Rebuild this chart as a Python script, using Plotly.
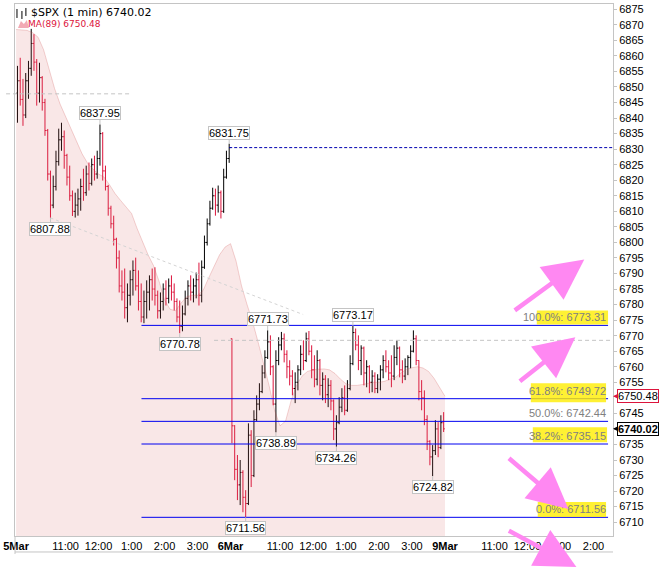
import plotly.graph_objects as go

# $SPX 1-min chart, read back off the picture as 5-minute bars: 5Mar then 6Mar
day1_open = [6848, 6852, 6846, 6841, 6852, 6856, 6864, 6858, 6848, 6853,
             6845, 6836, 6822, 6812, 6818, 6826, 6833, 6834, 6828, 6821,
             6815, 6810, 6812, 6814, 6818, 6816, 6822, 6819, 6825, 6822,
             6827, 6835, 6823, 6818, 6811, 6806, 6801, 6795, 6786, 6784,
             6779, 6783, 6788, 6791, 6786, 6781, 6776, 6781, 6784, 6788,
             6785, 6783, 6778, 6781, 6785, 6782, 6786, 6784, 6781, 6776,
             6773, 6777, 6782, 6786, 6784, 6786, 6788, 6783, 6792, 6800,
             6806, 6811, 6815, 6812, 6816, 6810, 6821, 6827]
day1_high = [6856.8, 6859.4, 6852.6, 6854.5, 6858.4, 6868.7, 6867.0, 6859.0, 6857.8, 6853.5,
             6846.2, 6836.5, 6823.1, 6821.5, 6829.5, 6836.6, 6838.5, 6836.0, 6828.5, 6824.7,
             6816.7, 6816.0, 6817.3, 6820.5, 6823.7, 6824.7, 6825.7, 6827.0, 6827.9, 6829.5,
             6837.95, 6835.5, 6824.7, 6818.5, 6811.8, 6808.6, 6801.5, 6797.4, 6791.0, 6791.6,
             6786.8, 6791.0, 6794.2, 6795.1, 6791.0, 6786.8, 6784.5, 6787.8, 6789.4, 6791.6,
             6792.0, 6784.5, 6783.9, 6786.8, 6787.8, 6788.4, 6789.4, 6786.8, 6782.0, 6781.3,
             6779.7, 6784.5, 6787.8, 6789.4, 6788.4, 6790.3, 6793.5, 6794.2, 6802.2, 6807.7,
             6813.4, 6817.6, 6817.3, 6818.3, 6816.7, 6823.7, 6829.5, 6831.75]
day1_low = [6838.5, 6844.0, 6837.5, 6840.0, 6846.2, 6853.6, 6855.2, 6844.0, 6845.0, 6842.4,
            6834.3, 6819.9, 6807.88, 6811.0, 6816.7, 6824.7, 6829.5, 6823.7, 6818.3, 6813.4,
            6808.5, 6808.0, 6808.6, 6810.2, 6813.4, 6815.0, 6816.7, 6818.3, 6819.9, 6820.5,
            6824.7, 6819.9, 6816.7, 6808.6, 6804.5, 6799.0, 6791.6, 6783.9, 6781.3, 6775.5,
            6774.3, 6779.7, 6782.9, 6784.5, 6778.1, 6774.3, 6774.0, 6775.5, 6778.1, 6781.3,
            6779.7, 6775.5, 6775.5, 6778.1, 6779.7, 6780.4, 6781.3, 6778.1, 6774.3, 6770.78,
            6771.4, 6776.5, 6779.7, 6781.3, 6780.7, 6782.0, 6779.7, 6780.7, 6791.5, 6799.0,
            6805.4, 6810.5, 6808.6, 6809.6, 6807.7, 6809.5, 6820.5, 6825.6]
day1_close = [6852, 6846, 6841, 6852, 6856, 6864, 6858, 6848, 6853, 6845,
              6836, 6822, 6812, 6818, 6826, 6833, 6834, 6828, 6821, 6815,
              6810, 6812, 6814, 6818, 6816, 6822, 6819, 6825, 6822, 6827,
              6835, 6823, 6818, 6811, 6806, 6801, 6795, 6786, 6784, 6779,
              6783, 6788, 6791, 6786, 6781, 6776, 6781, 6784, 6788, 6785,
              6783, 6778, 6781, 6785, 6782, 6786, 6784, 6781, 6776, 6773,
              6777, 6782, 6786, 6784, 6786, 6788, 6783, 6792, 6800, 6806,
              6811, 6815, 6812, 6816, 6810, 6821, 6827, 6830.5]

day2_open = [6769, 6741, 6727, 6722, 6726, 6718, 6716, 6738, 6725, 6743,
             6748, 6752, 6758, 6763, 6768, 6760, 6748, 6762, 6767, 6769,
             6764, 6760, 6757, 6753, 6755, 6759, 6764, 6762, 6769, 6765,
             6759, 6756, 6762, 6754, 6756, 6751, 6754, 6749, 6740, 6742,
             6747, 6750, 6746, 6753, 6761, 6771, 6767, 6762, 6766, 6758,
             6760, 6755, 6757, 6753, 6756, 6759, 6762, 6760, 6758, 6757,
             6763, 6766, 6759, 6757, 6760, 6763, 6765, 6769, 6762, 6752,
             6750, 6743, 6736, 6731, 6733, 6740, 6734, 6742]
day2_high = [6769.1, 6741.2, 6731.6, 6730.0, 6726.7, 6720.3, 6741.8, 6739.6, 6746.0, 6750.8,
             6754.7, 6760.5, 6765.3, 6771.73, 6770.1, 6760.5, 6765.3, 6769.5, 6771.2, 6770.7,
             6765.3, 6762.1, 6758.9, 6758.2, 6760.5, 6766.9, 6768.5, 6771.0, 6771.5, 6766.9,
             6763.7, 6765.3, 6762.5, 6758.2, 6757.3, 6756.3, 6755.7, 6749.5, 6744.4, 6750.2,
             6753.1, 6754.0, 6755.7, 6763.7, 6773.17, 6772.3, 6770.1, 6766.9, 6766.5, 6762.1,
             6760.5, 6758.9, 6758.2, 6757.6, 6760.5, 6763.7, 6765.3, 6762.1, 6763.7, 6766.9,
             6768.5, 6766.5, 6762.1, 6762.7, 6763.7, 6766.9, 6771.7, 6770.1, 6762.1, 6755.7,
             6752.4, 6744.4, 6736.4, 6734.8, 6742.8, 6742.2, 6744.4, 6745.4]
day2_low = [6735.4, 6723.5, 6717.1, 6715.5, 6713.2, 6711.56, 6715.5, 6721.3, 6724.5, 6742.5,
            6746.0, 6751.5, 6756.3, 6762.5, 6757.3, 6747.6, 6738.89, 6760.5, 6765.3, 6761.4,
            6756.3, 6754.0, 6750.8, 6748.3, 6752.4, 6757.3, 6758.9, 6761.5, 6763.7, 6756.3,
            6753.4, 6754.0, 6750.8, 6749.2, 6748.3, 6747.0, 6746.0, 6736.4, 6734.26, 6741.5,
            6745.4, 6744.4, 6745.5, 6752.4, 6760.5, 6765.3, 6758.9, 6757.3, 6754.0, 6753.4,
            6751.5, 6751.8, 6751.5, 6751.5, 6752.4, 6756.3, 6758.2, 6755.7, 6753.4, 6755.7,
            6760.5, 6756.6, 6754.7, 6755.7, 6757.3, 6759.5, 6764.6, 6760.5, 6749.2, 6746.0,
            6741.2, 6733.2, 6728.3, 6724.82, 6731.6, 6730.9, 6733.5, 6739.0]
day2_close = [6741, 6727, 6722, 6726, 6718, 6716, 6738, 6725, 6743, 6748,
              6752, 6758, 6763, 6768, 6760, 6748, 6762, 6767, 6769, 6764,
              6760, 6757, 6753, 6755, 6759, 6764, 6762, 6769, 6765, 6759,
              6756, 6762, 6754, 6756, 6751, 6754, 6749, 6740, 6742, 6747,
              6750, 6746, 6753, 6761, 6771, 6767, 6762, 6766, 6758, 6760,
              6755, 6757, 6753, 6756, 6759, 6762, 6760, 6758, 6757, 6763,
              6766, 6759, 6757, 6760, 6763, 6765, 6769, 6762, 6752, 6750,
              6743, 6736, 6731, 6733, 6740, 6734, 6742, 6740.02]

# MA(89), one reading every 10 minutes from the open of 5Mar to the close of 6Mar
ma89 = [6868.5, 6868.4, 6868.2, 6867.5, 6866.0, 6862.0, 6855.5, 6849.5, 6844.5, 6840.5,
        6836.5, 6832.5, 6828.5, 6825.5, 6823.5, 6822.0, 6821.0, 6818.5, 6815.7, 6813.5,
        6811.5, 6809.3, 6804.5, 6800.0, 6796.0, 6792.5, 6787.5, 6781.5, 6778.5, 6778.0,
        6780.5, 6782.5, 6783.0, 6783.0, 6784.5, 6788.5, 6792.5, 6796.0, 6798.5, 6799.6,
        6794.0, 6786.0, 6780.0, 6774.5, 6768.0, 6761.0, 6754.0, 6746.0, 6741.0, 6742.5,
        6749.0, 6754.0, 6757.0, 6758.5, 6759.0, 6759.2, 6759.3, 6759.0, 6757.8, 6756.0,
        6754.5, 6754.0, 6754.0, 6754.3, 6754.7, 6755.0, 6755.0, 6755.3, 6756.0, 6756.6,
        6758.0, 6759.2, 6759.7, 6760.0, 6759.6, 6758.5, 6756.3, 6753.5, 6750.48]

# labelled swing points: (day, bar, side)
pivot_day = [1, 1, 1, 1, 2, 2, 2, 2, 2, 2]
pivot_bar = [12, 30, 59, 77, 5, 13, 16, 38, 44, 73]
pivot_side = ["low", "high", "low", "high", "low", "high", "low", "low", "high", "low"]

# Fibonacci retracement drawn from the 6Mar low to the high
fib_low = 6711.56
fib_high = 6773.31
fib_ratios = [1.0, 0.618, 0.5, 0.382, 0.0]

# gray reference levels
gray_levels = [6847.8, 6768.5]

tick_vals = [0, 90, 150, 210, 270, 330, 390, 480, 540, 600, 660, 720, 780, 870, 930, 990, 1050]
tick_text = ["<b>5Mar</b>", "11:00", "12:00", "1:00", "2:00", "3:00",
             "<b>6Mar</b>", "11:00", "12:00", "1:00", "2:00", "3:00",
             "<b>9Mar</b>", "11:00", "12:00", "1:00", "2:00"]

W, H = 661, 568
ML, MR, MT, MB = 9, 48, 3, 32
PW, PH = W - ML - MR, H - MT - MB


def px_x(px):
    return (px - ML) / PW


def px_y(py):
    return (H - MB - py) / PH


BAR = 5
DAY = 390
RED = "#dc143c"
GRID = "#c4c4c4"
FIB = "#0000f0"
TICKFONT = dict(family="Liberation Sans, Arial, sans-serif", size=11, color="black")

x1 = [i * BAR + BAR / 2 for i in range(len(day1_close))]
x2 = [DAY + i * BAR + BAR / 2 for i in range(len(day2_close))]
ma_x = [i * 10 for i in range(len(ma89))]

fig = go.Figure()

# plotly puts scatter above ohlc, so the MA shade is see-through
fig.add_trace(go.Scatter(
    x=ma_x, y=ma89, mode="lines",
    line=dict(color="rgba(200,60,60,0.22)", width=1),
    fill="tozeroy", fillcolor="rgba(215,95,95,0.15)",
    hoverinfo="skip", showlegend=False,
))

fig.add_trace(go.Ohlc(
    x=x1 + x2,
    open=day1_open + day2_open,
    high=day1_high + day2_high,
    low=day1_low + day2_low,
    close=day1_close + day2_close,
    increasing=dict(line=dict(color="black", width=1)),
    decreasing=dict(line=dict(color=RED, width=1)),
    tickwidth=0.45,
    hoverinfo="skip", showlegend=False,
))

shapes = []
annotations = []

# fib levels
FIB_X0, FIB_X1 = 228, 1076.5
fib_hl = {1.0: (536, 608, 310, 324), 0.618: (530, 606, 383, 402),
          0.382: (532, 607, 427, 442), 0.0: (537, 606, 502, 517)}
for r in fib_ratios:
    lvl = fib_low + r * (fib_high - fib_low)
    shapes.append(dict(type="line", xref="x", yref="y", x0=FIB_X0, x1=FIB_X1,
                       y0=lvl, y1=lvl, line=dict(color=FIB, width=1)))
    annotations.append(dict(xref="paper", yref="y", x=px_x(608), y=lvl,
                            xanchor="right", yanchor="bottom", showarrow=False,
                            text=f"{r * 100:.1f}%: {lvl + 1e-9:.2f}",
                            font=dict(family="Liberation Sans, Arial", size=11, color="#808080")))
    if r in fib_hl:
        a, b, c, d = fib_hl[r]
        shapes.append(dict(type="rect", xref="paper", yref="paper", layer="above",
                           x0=px_x(a), x1=px_x(b), y0=px_y(d), y1=px_y(c),
                           fillcolor="#ffee00", opacity=0.8, line=dict(width=0)))

# previous close dashed line
last1 = day1_close[-1]
shapes.append(dict(type="line", xref="x", yref="y", x0=x1[-1], x1=1090, y0=last1, y1=last1,
                   line=dict(color="#0000b0", width=1, dash="3px,2px")))

# gray dashed levels and trend line
shapes.append(dict(type="line", xref="paper", yref="y", x0=px_x(0), x1=px_x(127),
                   y0=gray_levels[0], y1=gray_levels[0], line=dict(color=GRID, width=1, dash="4px,3px")))
shapes.append(dict(type="line", xref="x", yref="y", x0=360, x1=1090,
                   y0=gray_levels[1], y1=gray_levels[1], line=dict(color=GRID, width=1, dash="4px,3px")))
shapes.append(dict(type="line", xref="x", yref="y", x0=x1[12], x1=522,
                   y0=day1_low[12], y1=6776.8, line=dict(color="#d4d4d4", width=1, dash="3px,3px")))

# frame of the date strip
shapes.append(dict(type="line", xref="paper", yref="paper", x0=0, x1=1, y0=px_y(552), y1=px_y(552),
                   line=dict(color=GRID, width=1)))
shapes.append(dict(type="line", xref="paper", yref="paper", x0=0, x1=0, y0=px_y(536), y1=px_y(554),
                   line=dict(color=GRID, width=1)))

# legend icons
for bx, top, bot in [(11, 8, 17), (16, 10, 18), (20, 7, 15)]:
    shapes.append(dict(type="line", xref="paper", yref="paper", x0=px_x(bx), x1=px_x(bx),
                       y0=px_y(bot), y1=px_y(top), line=dict(color="black", width=1)))
shapes.append(dict(type="path", xref="paper", yref="paper",
                   path=f"M {px_x(12)},{px_y(27)} L {px_x(15)},{px_y(20)} L {px_x(18)},{px_y(23)} "
                        f"L {px_x(21)},{px_y(19)} L {px_x(23)},{px_y(27)} Z",
                   fillcolor="#f2aab4", line=dict(width=0)))

annotations.append(dict(xref="paper", yref="paper", x=px_x(23), y=px_y(12), xanchor="left",
                        yanchor="middle", showarrow=False,
                        text=f"$SPX (1 min) {day2_close[-1]:.2f}",
                        font=dict(family="DejaVu Sans", size=11, color="black")))
annotations.append(dict(xref="paper", yref="paper", x=px_x(20), y=px_y(23), xanchor="left",
                        yanchor="middle", showarrow=False,
                        text=f"MA(89) {ma89[-1]:.2f}",
                        font=dict(family="DejaVu Sans", size=9, color=RED)))

# swing labels
for d, b, s in zip(pivot_day, pivot_bar, pivot_side):
    xs = x1 if d == 1 else x2
    hi = day1_high if d == 1 else day2_high
    lo = day1_low if d == 1 else day2_low
    val = hi[b] if s == "high" else lo[b]
    annotations.append(dict(x=xs[b], y=val, text=f"{val:.2f}", showarrow=True,
                            arrowhead=0, arrowwidth=1, arrowcolor=GRID, ax=0,
                            ay=-11 if s == "high" else 11,
                            bgcolor="white", bordercolor=GRID, borderwidth=1, borderpad=0,
                            font=TICKFONT))

# price tags on the axis
for val, col, bold in [(ma89[-1], RED, False), (day2_close[-1], "black", True)]:
    txt = f"{val:.2f}"
    annotations.append(dict(xref="paper", yref="y", x=1, y=val, ax=25, ay=0,
                            text=f"<b>{txt}</b>" if bold else txt, showarrow=True,
                            arrowhead=2, arrowsize=1, arrowwidth=1, arrowcolor=col,
                            bgcolor="white", bordercolor=col, borderwidth=1, borderpad=0,
                            font=TICKFONT))

# hand-drawn pink arrows: (tail px, tip px)
for tx, ty, hx, hy in [(513, 311, 584, 259), (518, 382, 575, 337),
                       (507, 457, 568, 509), (507, 530, 576, 575)]:
    annotations.append(dict(xref="paper", yref="paper", x=px_x(hx), y=px_y(hy),
                            ax=tx - hx, ay=ty - hy, text="", showarrow=True,
                            arrowhead=2, arrowsize=1.8, arrowwidth=4.5, arrowcolor="#ff88f2"))

ytick = [v for v in range(6710, 6880, 5) if v not in (6740, 6750)]

fig.update_layout(
    width=W, height=H,
    margin=dict(l=ML, r=MR, t=MT, b=MB),
    paper_bgcolor="white", plot_bgcolor="white",
    showlegend=False,
    shapes=shapes, annotations=annotations,
    xaxis=dict(range=[-2, 1085.5], tickvals=tick_vals, ticktext=tick_text,
               showgrid=False, zeroline=False, showline=True, linecolor=GRID, mirror=True,
               ticks="", tickfont=TICKFONT, ticklabeloverflow="allow",
               rangeslider=dict(visible=False), fixedrange=True),
    yaxis=dict(range=[6705.55, 6876.7], side="right", tickvals=ytick,
               showgrid=False, zeroline=False, showline=True, linecolor=GRID, mirror=True,
               ticks="outside", ticklen=3, tickcolor=GRID, tickfont=TICKFONT,
               fixedrange=True),
)

fig.write_html("out.html", config={"displayModeBar": False},
               post_script="document.body.style.margin='0';")
